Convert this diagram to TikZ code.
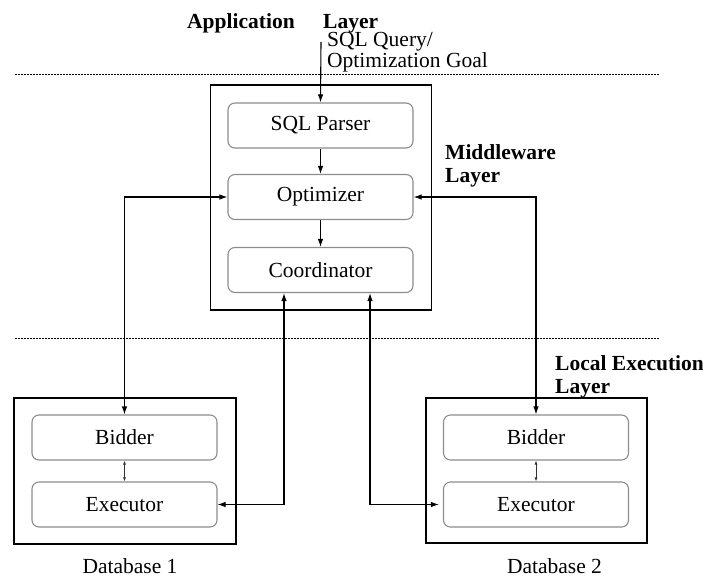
\documentclass[tikz,border=0pt]{standalone}
\usepackage{fontspec}
\setmainfont{Liberation Serif}
\usetikzlibrary{arrows.meta}
\begin{document}
\begin{tikzpicture}[x=1pt,y=-1pt,
  font=\fontsize{21.5}{24}\selectfont,
  outerbox/.style={draw=black,line width=1.4pt,minimum width=#1,inner sep=0pt},
  module/.style={draw=black!45,line width=1.1pt,rounded corners=7pt,
    minimum width=185pt,minimum height=45pt,inner sep=0pt},
  flow/.style={line width=1.1pt,-{Latex[length=8pt,width=5.5pt]}},
  both/.style={line width=1.1pt,{Latex[length=8pt,width=5.5pt]}-{Latex[length=8pt,width=5.5pt]}},
  small/.style={line width=0.8pt,black!80,{Latex[length=4pt,width=3pt]}-{Latex[length=4pt,width=3pt]}},
  layerline/.style={line width=1pt,dash pattern=on 1.5pt off 1.5pt},
  lbl/.style={anchor=base west,inner sep=0pt},
  blbl/.style={anchor=base west,inner sep=0pt,font=\fontsize{21.5}{24}\selectfont\bfseries}]
\useasboundingbox (0,0) rectangle (703,575);

% layer separators
\draw[layerline] (15,75) -- (660,75);
\draw[layerline] (15,338) -- (660,338);

% layer titles
\node[blbl] (appl) at (187,29) {Application};
\node[blbl] (appl2) at (323,29) {Layer};
\node[blbl] (mwl) at (445,159) {Middleware};
\node[blbl] (mwl2) at (445,182) {Layer};
\node[blbl] (lel) at (555,370) {Local Execution};
\node[blbl] (lel2) at (555,393) {Layer};

% query input text
\node[lbl] (q1) at (327,47) {SQL Query/};
\node[lbl] (q2) at (327,68) {Optimization Goal};

% middleware container and modules
\node[outerbox=221pt,minimum height=225pt] (mw) at (321,197.5) {};
\node[module] (parser) at (320.5,125.5) {SQL Parser};
\node[module] (optimizer) at (320.5,197) {Optimizer};
\node[module] (coordinator) at (320.5,270) {Coordinator};

% databases
\node[outerbox=222pt,minimum height=146pt] (db1) at (125,471) {};
\node[module] (bidder1) at (124.5,437.5) {Bidder};
\node[module] (executor1) at (124.5,504.5) {Executor};
\node[outerbox=221pt,minimum height=145pt] (db2) at (536.5,470.5) {};
\node[module] (bidder2) at (536,437.5) {Bidder};
\node[module] (executor2) at (536,504.5) {Executor};

\node[anchor=base,inner sep=0pt] (db1lbl) at (130,573) {Database 1};
\node[anchor=base,inner sep=0pt] (db2lbl) at (554.5,573) {Database 2};

% connectors
\coordinate (qin) at (321,42);
\draw[flow] (qin) -- (parser.north);
\draw[flow] (parser.south) -- (optimizer.north);
\draw[flow] (optimizer.south) -- (coordinator.north);
\draw[both] (bidder1.north) |- (optimizer.west);
\draw[both] (bidder2.north) |- (optimizer.east);
\draw[both] ([xshift=-36.5pt]coordinator.south) |- (executor1.east);
\draw[both,shorten >=4pt] ([xshift=49.5pt]coordinator.south) |- (executor2.west);
\draw[small] (bidder1.south) -- (executor1.north);
\draw[small] (bidder2.south) -- (executor2.north);
\end{tikzpicture}
\end{document}
